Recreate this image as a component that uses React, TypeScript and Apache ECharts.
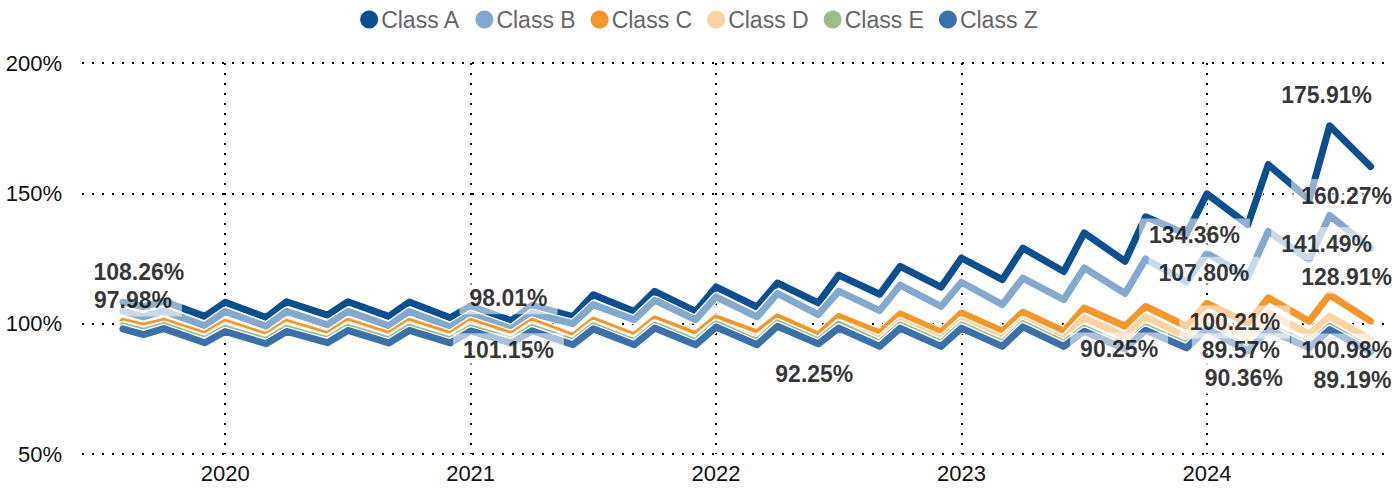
import React, { useEffect, useRef } from 'react';
import * as echarts from 'echarts';

const dates = [
  '2019-08', '2019-09', '2019-10', '2019-12',
  '2020-01', '2020-03', '2020-04', '2020-06', '2020-07', '2020-09', '2020-10', '2020-12',
  '2021-01', '2021-03', '2021-04', '2021-06', '2021-07', '2021-09', '2021-10', '2021-12',
  '2022-01', '2022-03', '2022-04', '2022-06', '2022-07', '2022-09', '2022-10', '2022-12',
  '2023-01', '2023-03', '2023-04', '2023-06', '2023-07', '2023-09', '2023-10', '2023-12',
  '2024-01', '2024-03', '2024-04', '2024-06', '2024-07', '2024-09',
];

const classA = [
  108.26, 106.5, 108.6, 102.8,
  108.2, 102.4, 108.4, 103.3, 108.4, 102.8, 108.3, 102.3,
  106.8, 101.15, 107.0, 102.7, 111.1, 104.7, 112.4, 104.7,
  114.1, 106.4, 115.6, 108.0, 118.6, 111.3, 122.0, 114.0,
  125.2, 116.9, 129.0, 120.0, 134.8, 123.9, 141.0, 134.36,
  149.8, 138.0, 161.0, 147.6, 175.91, 160.27,
];
const classB = [
  104.8, 102.6, 104.9, 99.2,
  104.7, 99.0, 104.7, 99.6, 104.7, 99.2, 104.7, 98.8,
  103.5, 98.01, 104.0, 100.0, 107.3, 101.5, 109.0, 101.5,
  110.3, 102.6, 111.6, 103.5, 112.5, 105.0, 114.8, 106.6,
  115.9, 107.3, 117.5, 109.2, 121.4, 111.6, 124.8, 116.0,
  127.0, 118.0, 135.4, 124.5, 141.49, 128.91,
];
const classC = [
  100.9, 99.0, 100.9, 95.8,
  100.5, 95.4, 100.5, 95.8, 100.9, 95.8, 100.9, 95.8,
  100.9, 95.8, 100.9, 95.1, 101.3, 95.4, 101.8, 95.8,
  102.2, 96.4, 102.6, 95.6, 102.8, 96.4, 103.7, 96.7,
  104.1, 97.1, 104.4, 97.1, 106.0, 99.0, 106.6, 99.0,
  107.8, 100.21, 109.9, 100.9, 111.1, 100.98,
];
const classD = [
  99.3, 97.4, 99.3, 94.2,
  98.9, 93.8, 98.9, 94.2, 99.2, 94.2, 99.2, 94.1,
  99.2, 94.0, 99.2, 93.4, 99.6, 93.6, 99.9, 93.8,
  100.1, 94.2, 100.3, 93.4, 100.1, 93.9, 100.8, 94.0,
  101.0, 94.2, 101.2, 94.0, 102.3, 95.0, 102.6, 94.8,
  103.2, 94.5, 104.2, 96.0, 102.8, 93.9,
];
const classE = [
  99.2, 97.0, 99.3, 93.9,
  98.2, 93.5, 98.2, 93.9, 98.6, 93.8, 98.6, 93.8,
  98.4, 93.7, 98.5, 93.1, 99.2, 93.1, 99.5, 93.1,
  99.9, 93.1, 100.2, 93.4, 99.8, 92.5, 99.5, 92.5,
  99.5, 92.5, 100.0, 92.5, 98.3, 91.4, 98.7, 91.9,
  99.2, 90.36, 98.9, 91.9, 99.0, 90.2,
];
const classZ = [
  97.98, 95.8, 98.1, 92.7,
  97.0, 92.3, 97.0, 92.7, 97.4, 92.6, 97.4, 92.6,
  97.2, 92.5, 97.3, 91.9, 98.0, 91.9, 98.3, 91.9,
  98.7, 91.9, 99.0, 92.25, 98.3, 91.3, 98.3, 91.3,
  98.3, 91.3, 98.8, 91.3, 97.1, 90.25, 97.5, 90.7,
  98.0, 89.57, 97.7, 90.7, 97.7, 89.19,
];

const seriesNames = ['Class A', 'Class B', 'Class C', 'Class D', 'Class E', 'Class Z'];
const seriesValues = [classA, classB, classC, classD, classE, classZ];
const seriesColors = ['#0b4f91', '#84a9cf', '#f5952a', '#fdd3a1', '#9dbb8b', '#3a71a8'];

const axisStart = '2019-06';
const axisEnd = '2024-10';

// labelled points: series index, date
const labelledPoints = [
  { s: 0, d: '2019-08' }, { s: 5, d: '2019-08' },
  { s: 1, d: '2021-03' }, { s: 0, d: '2021-03' },
  { s: 5, d: '2022-06' }, { s: 5, d: '2023-09' },
  { s: 0, d: '2023-12' }, { s: 2, d: '2024-01' },
  { s: 2, d: '2024-03' }, { s: 5, d: '2024-03' }, { s: 4, d: '2024-03' },
  { s: 0, d: '2024-07' }, { s: 1, d: '2024-07' },
  { s: 0, d: '2024-09' }, { s: 1, d: '2024-09' }, { s: 2, d: '2024-09' }, { s: 5, d: '2024-09' },
];

function monthRange(start: string, end: string): string[] {
  const out: string[] = [];
  let [y, m] = start.split('-').map(Number);
  const [ey, em] = end.split('-').map(Number);
  while (y < ey || (y === ey && m <= em)) {
    out.push(`${y}-${String(m).padStart(2, '0')}`);
    m++;
    if (m > 12) { m = 1; y++; }
  }
  return out;
}

export default function App() {
  const ref = useRef<HTMLDivElement>(null);
  useEffect(() => {
    if (!ref.current) return;
    const chart = echarts.init(ref.current, undefined, { renderer: 'svg' });
    const categories = monthRange(axisStart, axisEnd);
    const isJan = (_i: number, v: string) => v.endsWith('-01');
    const font = 'Liberation Sans, Arial, Helvetica, sans-serif';

    // label placement offsets [dx, dy] for each labelled point (same order)
    const offsets: number[][] = [
      [16, -30], [10, -29],
      [-3, -31], [-3, 29],
      [-4, 30], [-6, 0],
      [8, 1], [-3, -30],
      [-13, -1], [-7, -1], [-4, 29],
      [-3, -31], [-3, 28],
      [-24, 29], [-24, 29], [-24, 29], [-18, 28],
    ];

    const lineSeries: any[] = [];
    seriesNames.forEach((name, si) => {
      const data = dates.map((d, i) => [d, seriesValues[si][i]]);
      lineSeries.push({
        name: name + ' halo',
        type: 'line',
        data,
        silent: true,
        showSymbol: false,
        symbol: 'none',
        lineStyle: { color: '#ffffff', width: 9.5, join: 'round', cap: 'round' },
        itemStyle: { color: '#ffffff' },
        z: 2,
      });
      lineSeries.push({
        name,
        type: 'line',
        data,
        showSymbol: false,
        symbol: 'none',
        color: seriesColors[si],
        lineStyle: { color: seriesColors[si], width: 7, join: 'round', cap: 'round' },
        itemStyle: { color: seriesColors[si] },
        z: 2,
      });
    });

    const labelData = labelledPoints.map((p, k) => {
      const idx = dates.indexOf(p.d);
      return {
        value: [p.d, seriesValues[p.s][idx]],
        label: { offset: offsets[k] },
      };
    });

    chart.setOption({
      animation: false,
      backgroundColor: '#ffffff',
      legend: {
        data: seriesNames,
        top: 3,
        left: 'center',
        icon: 'circle',
        itemWidth: 18,
        itemHeight: 18,
        itemGap: 15,
        textStyle: { fontSize: 23, color: '#666666', fontFamily: font, padding: [0, 0, 0, -2] },
      },
      grid: { left: 82, right: 7, top: 63, bottom: 39, containLabel: false },
      xAxis: {
        type: 'category',
        data: categories,
        boundaryGap: false,
        axisLine: { show: false },
        axisTick: { show: false },
        axisLabel: {
          interval: isJan,
          formatter: (v: string) => v.slice(0, 4),
          fontSize: 22,
          color: '#111111',
          fontFamily: font,
          margin: 8,
        },
        splitLine: {
          show: true,
          interval: isJan,
          lineStyle: { color: '#000000', width: 2, type: [2, 8] },
        },
      },
      yAxis: {
        type: 'value',
        min: 50,
        max: 200,
        interval: 50,
        axisLine: { show: false },
        axisTick: { show: false },
        axisLabel: {
          formatter: '{value}%',
          fontSize: 22,
          color: '#111111',
          fontFamily: font,
          margin: 20,
        },
        splitLine: { lineStyle: { color: '#000000', width: 2, type: [2, 8] } },
      },
      series: [
        ...lineSeries,
        {
          name: 'labels',
          type: 'scatter',
          data: labelData,
          symbol: 'circle',
          symbolSize: 1,
          silent: true,
          itemStyle: { color: 'rgba(0,0,0,0)' },
          z: 10,
          label: {
            show: true,
            position: 'inside',
            formatter: (p: any) => `${Number(p.value[1]).toFixed(2)}%`,
            fontSize: 23,
            fontWeight: 'bold',
            color: '#000000',
            fontFamily: font,
            backgroundColor: 'rgba(255,255,255,0.7)',
            padding: [5, 10],
          },
        },
      ],
    });
    return () => chart.dispose();
  }, []);
  return (
    <div
      ref={ref}
      style={{ position: 'absolute', left: 0, top: 0, width: 1398, height: 493 }}
    />
  );
}
